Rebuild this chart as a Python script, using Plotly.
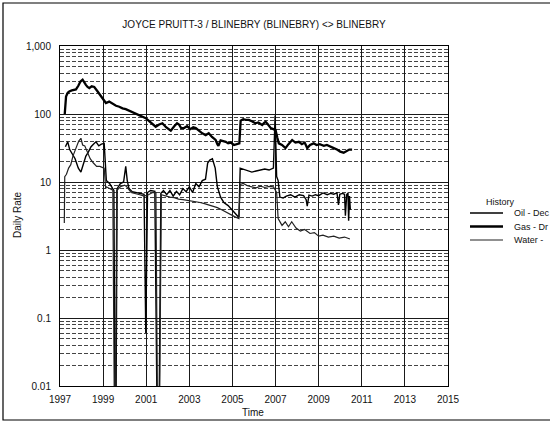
import plotly.graph_objects as go

# ---------------- data ----------------
title_text = "JOYCE PRUITT-3 / BLINEBRY (BLINEBRY) <> BLINEBRY"
legend_title = "History"
series_names = ["Oil - Dec", "Gas - Dr", "Water -"]

y_tick_vals = [0.01, 0.1, 1, 10, 100, 1000]
y_tick_text = ["0.01", "0.1", "1", "10", "100", "1,000"]
x_tick_vals = [1997, 1999, 2001, 2003, 2005, 2007, 2009, 2011, 2013, 2015]

gas_t = [1997.22, 1997.28, 1997.36, 1997.43, 1997.55, 1997.74, 1997.85, 1997.95, 1998.05,
         1998.12, 1998.2, 1998.28, 1998.36, 1998.47, 1998.59, 1998.72, 1998.85, 1999.0,
         1999.13, 1999.28, 1999.45, 1999.6, 1999.75, 1999.9, 2000.05, 2000.2, 2000.35,
         2000.52, 2000.68, 2000.85, 2000.98, 2001.15, 2001.3, 2001.44, 2001.6, 2001.75,
         2001.92, 2002.05, 2002.14, 2002.3, 2002.43, 2002.52, 2002.62, 2002.75, 2002.9,
         2003.05, 2003.18, 2003.3, 2003.45, 2003.6, 2003.76, 2003.9, 2004.05, 2004.22,
         2004.3, 2004.35, 2004.45, 2004.58, 2004.69, 2004.8, 2004.92, 2005.07, 2005.2,
         2005.32, 2005.38, 2005.5, 2005.62, 2005.76, 2005.9, 2006.07, 2006.2, 2006.38,
         2006.47, 2006.54, 2006.65, 2006.78, 2006.9, 2007.0, 2007.08, 2007.15, 2007.3,
         2007.46, 2007.6, 2007.77, 2007.92, 2008.08, 2008.22, 2008.35, 2008.47, 2008.6,
         2008.77, 2008.9, 2009.05, 2009.24, 2009.38, 2009.52, 2009.7, 2009.85, 2010.0,
         2010.16, 2010.3, 2010.42, 2010.55]
gas_v = [100, 180, 205, 215, 222, 230, 260, 300, 320,
         290, 268, 250, 240, 255, 250, 220, 195, 170,
         145, 152, 140, 132, 128, 121, 118, 112, 108,
         103, 96, 90, 87, 78, 70, 65, 70, 73,
         64, 60, 57, 66, 73, 70, 62, 62, 66,
         60, 64, 62, 56, 52, 49, 52, 46, 41.5,
         36, 34, 41, 40, 39, 37, 38, 35, 36,
         37, 80, 84, 82, 82, 78, 73, 75, 69,
         74, 77, 70, 62, 60, 58, 45, 37, 35,
         31.5, 36, 41.5, 38, 39, 36, 38, 31.5, 35,
         37, 35, 36, 34, 35, 33, 31.5, 30, 28,
         27, 28.5, 30, 30]

oil_t = [1997.25, 1997.36, 1997.45, 1997.55, 1997.7, 1997.85, 1997.97, 1998.1, 1998.2,
         1998.3, 1998.44, 1998.55, 1998.67, 1998.8, 1998.92, 1999.05, 1999.12, 1999.15,
         1999.3, 1999.42, 1999.5, 1999.55, 1999.6, 1999.65, 1999.8, 1999.95, 2000.05,
         2000.12, 2000.2, 2000.35, 2000.55, 2000.75, 2000.9, 2000.98, 2001.06, 2001.2,
         2001.4, 2001.5, 2001.6, 2001.68, 2001.8, 2001.95, 2002.1, 2002.25, 2002.4,
         2002.55, 2002.7, 2002.85, 2003.0, 2003.15, 2003.3, 2003.45, 2003.6, 2003.75,
         2003.85, 2003.95, 2004.07, 2004.2, 2004.3, 2004.45, 2004.6, 2004.8, 2004.95,
         2005.1, 2005.3, 2005.36, 2005.5, 2005.7, 2005.9, 2006.1, 2006.3, 2006.5,
         2006.7, 2006.9, 2006.98, 2007.05, 2007.12, 2007.2, 2007.35, 2007.5, 2007.7,
         2007.9, 2008.1, 2008.3, 2008.42, 2008.47, 2008.55, 2008.7, 2008.85, 2009.0,
         2009.2, 2009.4, 2009.55, 2009.7, 2009.85, 2009.92, 2009.98, 2010.1, 2010.2,
         2010.24, 2010.3, 2010.36, 2010.39, 2010.43, 2010.47]
oil_v = [33, 39, 30, 26, 22, 16, 14, 19, 24,
         27, 33, 36, 39, 34, 36, 37, 11, 10.5,
         9.5, 8, 7.5, 0.005, 0.005, 8, 9.5, 10, 17,
         10.5, 8, 7.2, 7.0, 6.8, 6.6, 0.06, 7, 7.5,
         7.3, 0.005, 0.005, 6.8, 7.5, 6.5, 7.5, 6.2, 7.3,
         6.5, 8, 7.2, 8.5, 7, 9.5, 8.5, 10.5, 11,
         19, 21, 22, 16, 8.5, 6, 5, 4.5, 4.0,
         3.6, 3.0, 16, 15.5, 14.5, 14, 14.5, 15, 15.5,
         15, 16, 95, 12, 10.5, 6, 5.8, 6.2, 6.5,
         6.0, 6.5, 6.3, 5.5, 4.4, 6.4, 6.2, 6.5, 6.3,
         6.9, 6.5, 6.8, 6.6, 6.9, 4.6, 6.6, 6.8, 6.6,
         3.2, 6.5, 6.9, 2.7, 6.2, 3.9]

water_t = [1997.2, 1997.22, 1997.3, 1997.4, 1997.5, 1997.6, 1997.75, 1997.87, 1997.97,
           1998.05, 1998.15, 1998.28, 1998.4, 1998.55, 1998.7, 1998.85, 1999.05, 1999.12,
           1999.15, 1999.3, 1999.45, 1999.52, 1999.58, 1999.63, 1999.8, 2000.0, 2000.1,
           2000.3, 2000.5, 2000.7, 2000.9, 2001.1, 2001.3, 2001.45, 2001.52, 2001.62,
           2001.7, 2001.9, 2002.1, 2002.3, 2002.5, 2002.7, 2002.9, 2003.1, 2003.3,
           2003.5, 2003.7, 2003.9, 2004.1, 2004.3, 2004.5, 2004.7, 2004.9, 2005.1,
           2005.3, 2005.36, 2005.5, 2005.7, 2005.9, 2006.1, 2006.3, 2006.5, 2006.7,
           2006.9, 2007.05, 2007.12, 2007.3, 2007.45, 2007.6, 2007.75, 2007.95, 2008.15,
           2008.35, 2008.6, 2008.8, 2009.0, 2009.2, 2009.45, 2009.7, 2009.95, 2010.2,
           2010.45]
water_v = [2.5, 12, 13, 16, 18, 24, 32, 40, 44,
           35, 34, 27, 22, 19, 17, 17, 16, 8,
           8.5, 8, 7.6, 0.005, 0.005, 7.5, 8.5, 9, 8.5,
           7, 6.8, 6.5, 6.2, 6.5, 7, 7, 0.005, 0.005,
           6.5, 6.2, 6.0, 5.9, 5.6, 5.5, 5.4, 5.3, 5.2,
           5.0, 4.8, 4.6, 4.4, 4.2, 3.9, 3.6, 3.3, 3.1,
           2.9, 9.2, 9.5, 8.8, 8.5, 8.2, 8.7, 8.3, 8.6,
           8.5, 7, 2.9, 2.3, 2.6, 2.2, 2.6, 2.1, 1.9,
           2.0, 1.75, 1.8, 1.6, 1.65, 1.55, 1.6, 1.5, 1.55,
           1.45]

# ---------------- figure ----------------
FONT = "Arial, Liberation Sans, Helvetica, sans-serif"
W, H = 550, 423
ML, MR, MT, MB = 60, 102, 46, 37
pw, ph = W - ML - MR, H - MT - MB


def px_x(p):
    return (p - ML) / pw


def px_y(p):
    return 1 - (p - MT) / ph


line_styles = [dict(color="#000000", width=1.4),
               dict(color="#000000", width=2.3),
               dict(color="#222222", width=1.2)]

fig = go.Figure()
for name, t, v, ls in zip(series_names, [oil_t, gas_t, water_t],
                          [oil_v, gas_v, water_v], line_styles):
    fig.add_trace(go.Scatter(x=t, y=v, mode="lines", name=name, line=ls,
                             showlegend=False))

fig.update_layout(
    width=W, height=H,
    margin=dict(l=ML, r=MR, t=MT, b=MB, autoexpand=False),
    paper_bgcolor="white", plot_bgcolor="white",
    font=dict(family=FONT, size=10, color="#111111"),
    title=dict(text=title_text, x=254 / W, xanchor="center",
               y=1 - 24 / H, yanchor="middle", font=dict(size=10, family=FONT)),
    showlegend=False,
    xaxis=dict(
        range=[1997, 2015], tickvals=x_tick_vals,
        showgrid=True, gridcolor="#1a1a1a", gridwidth=1,
        showline=True, linecolor="#000000", linewidth=1, mirror=True,
        zeroline=False, ticks="", ticklabelstandoff=4,
        tickfont=dict(size=10, family=FONT),
    ),
    yaxis=dict(
        type="log", range=[-2, 3], tickvals=y_tick_vals, ticktext=y_tick_text,
        showgrid=True, gridcolor="#1a1a1a", gridwidth=1,
        showline=True, linecolor="#000000", linewidth=1, mirror=True,
        zeroline=False, ticks="", ticklabelstandoff=6,
        tickfont=dict(size=10, family=FONT),
        minor=dict(dtick="D1", showgrid=True, gridcolor="#444444",
                   griddash="4px,2px", gridwidth=1, ticks=""),
    ),
)

# axis titles
fig.add_annotation(text="Time", xref="paper", yref="paper", x=px_x(253), y=px_y(412),
                   xanchor="center", yanchor="middle", showarrow=False,
                   font=dict(size=10, family=FONT))
fig.add_annotation(text="Daily Rate", xref="paper", yref="paper", x=px_x(17), y=px_y(215),
                   xanchor="center", yanchor="middle", showarrow=False, textangle=-90,
                   font=dict(size=10, family=FONT))

# legend (drawn to match the compact original)
fig.add_annotation(text=legend_title, xref="paper", yref="paper", x=px_x(500), y=px_y(202),
                   xanchor="center", yanchor="middle", showarrow=False,
                   font=dict(size=9, family=FONT))
leg_y = [213, 226.5, 240]
for name, ly, ls in zip(series_names, leg_y, line_styles):
    fig.add_shape(type="line", xref="paper", yref="paper",
                  x0=px_x(470), x1=px_x(503), y0=px_y(ly), y1=px_y(ly), line=ls)
    fig.add_annotation(text=name, xref="paper", yref="paper", x=px_x(512), y=px_y(ly),
                       xanchor="left", yanchor="middle", showarrow=False,
                       font=dict(size=9, family=FONT))

# outer frame around the whole chart
fig.add_shape(type="rect", xref="paper", yref="paper",
              x0=px_x(3), x1=px_x(W + 10),
              y0=px_y(420), y1=px_y(3),
              line=dict(color="#000000", width=1.2), fillcolor="rgba(0,0,0,0)",
              layer="above")

fig.write_html("out.html", config={"displayModeBar": False, "staticPlot": True},
               post_script="document.body.style.margin='0';document.body.style.overflow='hidden';")
